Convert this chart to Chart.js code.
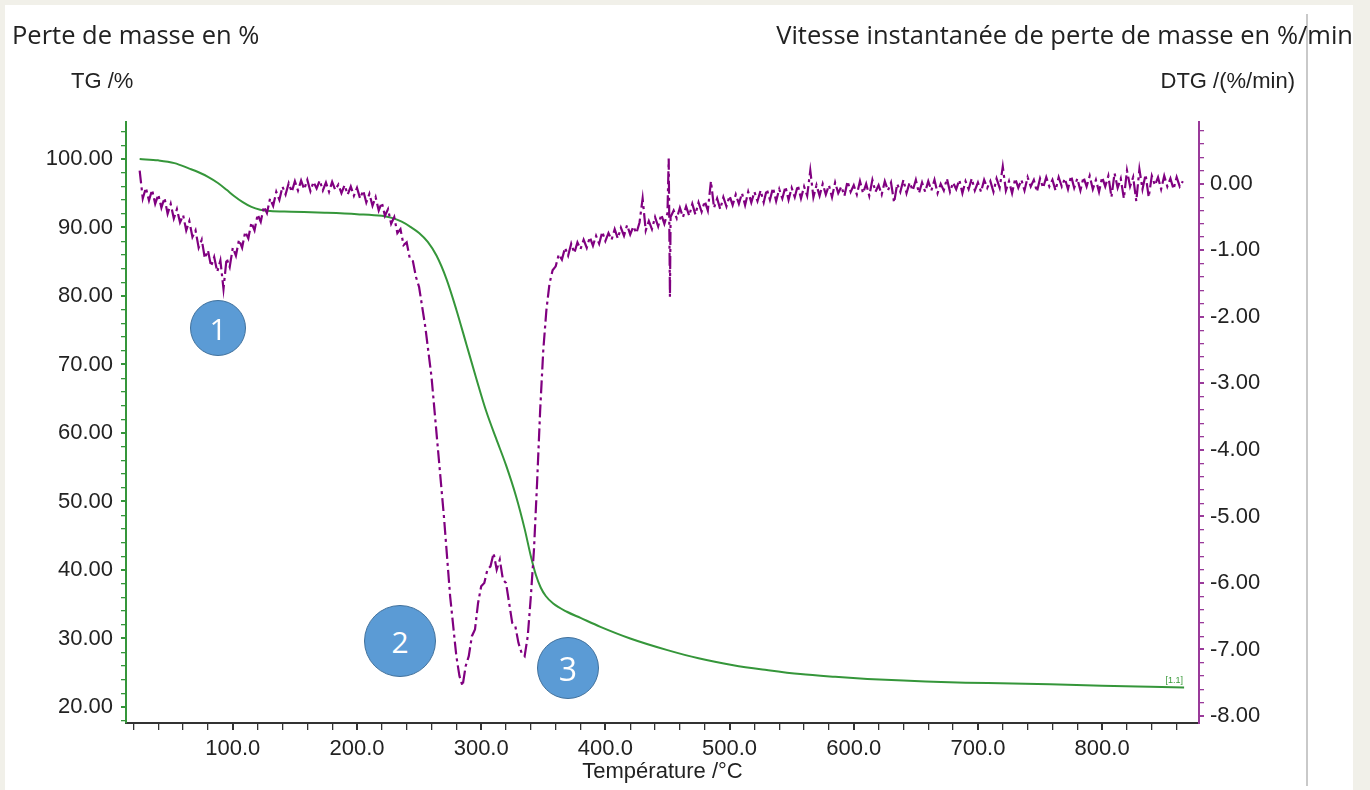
<!DOCTYPE html>
<html lang="fr">
<head>
<meta charset="UTF-8">
<title>TG / DTG</title>
<script src="https://cdn.jsdelivr.net/npm/chart.js"></script>
<style>
  body { margin: 0; width: 1370px; height: 790px; overflow: hidden; position: relative; background: #f1f0e9; }
  #panel { position: absolute; left: 5px; top: 5px; width: 1348px; height: 785px; background: #fff; }
  #rule { position: absolute; left: 1306px; top: 14px; width: 2px; height: 772px; background: #c9c9c9; }
  #chart { position: absolute; left: 0; top: 0; }
  .txt { position: absolute; white-space: nowrap; line-height: 1; color: #222; }
  .big { font-family: "Open Sans", sans-serif; font-size: 25.5px; }
  .unit { font-family: "Liberation Sans", Arial, sans-serif; font-size: 22px; }
  .tag { font-family: "Liberation Sans", Arial, sans-serif; font-size: 9px; color: #3a9a3a; }
  .dot { position: absolute; border-radius: 50%; background: #5b9bd5; border: 1.5px solid #41719c;
         box-sizing: border-box; color: #fff; font-family: "Open Sans", sans-serif;
         display: flex; align-items: center; justify-content: center; }
</style>
</head>
<body>
  <div id="panel"></div>
  <div id="rule"></div>
  <canvas id="chart" width="1370" height="790"></canvas>

  <div class="txt big" style="left:12px; top:22px;">Perte de masse en %</div>
  <div class="txt big" style="right:17px; top:22px;">Vitesse instantanée de perte de masse en %/min</div>
  <div class="txt unit" style="left:71px; top:70px;">TG /%</div>
  <div class="txt unit" style="right:75px; top:70px;">DTG /(%/min)</div>
  <div class="txt tag" style="right:187px; top:676px;">[1.1]</div>

  <div class="dot" style="left:190px; top:300px; width:56px; height:56px; font-size:30px;">1</div>
  <div class="dot" style="left:364px; top:605px; width:72px; height:72px; font-size:30px;">2</div>
  <div class="dot" style="left:537px; top:637px; width:62px; height:62px; font-size:32px;">3</div>

<script>
  // TG curve (mass %, left axis)
  const tgTemp = [25, 40, 53, 65, 72, 80, 88, 95, 101, 108, 115, 122, 130, 147, 174, 200, 220, 228,
                  236, 243, 250, 257, 264, 272, 280, 288, 296, 304, 312, 320, 328, 335, 340, 344, 348,
                  352, 358, 369, 380, 396, 420, 450, 475, 503, 530, 557, 585, 611, 640, 664, 690,
                  718, 758, 800, 839, 866];
  const tgMass = [100.0, 99.8, 99.4, 98.6, 98.1, 97.4, 96.5, 95.5, 94.6, 93.7, 93.0, 92.6, 92.4, 92.3,
                  92.15, 91.95, 91.7, 91.4, 90.85, 90.1, 89.2, 87.9, 85.9, 82.5, 78.0, 73.0, 68.0, 63.2,
                  59.2, 55.3, 50.8, 46.0, 42.0, 39.3, 37.4, 36.2, 35.1, 33.9, 33.0, 31.7, 30.0, 28.3,
                  27.1, 26.1, 25.4, 24.8, 24.4, 24.1, 23.85, 23.7, 23.55, 23.45, 23.3, 23.1, 22.95, 22.85];

  // DTG curve (%/min, right axis)
  const dtgTemp = [
    25, 27.5, 30, 32.5, 35, 37.5, 40, 42.5, 45, 47.5, 50, 52.5, 55, 57.5, 60, 62.5, 65, 67.5, 70, 72.5,
    75, 77.5, 80, 82.5, 85, 87.5, 90, 92.5, 95, 97.5, 100, 102.5, 105, 107.5, 110, 112.5, 115, 117.5,
    120, 122.5, 125, 127.5, 130, 132.5, 135, 137.5, 140, 142.5, 145, 147.5, 150, 152.5, 155, 157.5,
    160, 162.5, 165, 167.5, 170, 172.5, 175, 177.5, 180, 182.5, 185, 187.5, 190, 192.5, 195, 197.5,
    200, 202.5, 205, 207.5, 210, 212.5, 215, 217.5, 220, 222.5, 225, 227.5, 230, 232.5, 235, 237.5,
    240, 242.5, 245, 247.5, 250,
    255, 260, 265, 270, 275, 280, 282.5, 285, 287.5, 290, 292.5, 295, 297.5, 300, 302.5, 305, 307.5,
    310, 312.5, 315, 317.5, 320, 322.5, 325, 327.5, 330, 332.5, 335, 337.5, 340, 342.5, 345, 347.5,
    350, 352.5,
    355, 357.5, 360, 362.5, 365, 367.5, 370, 372.5, 375, 377.5, 380, 382.5, 385, 387.5, 390, 392.5,
    395, 397.5, 400, 402.5, 405, 407.5, 410, 412.5, 415, 417.5, 420, 422.5, 425, 427.5, 430, 432.5,
    435, 437.5, 440, 442.5, 445, 447.5, 450, 451, 452, 452.5, 455, 457.5, 460, 462.5, 465, 467.5,
    470, 472.5, 475, 477.5, 480, 482.5, 485, 487.5, 490, 492.5, 495, 497.5, 500, 502.5, 505, 507.5,
    510, 512.5, 515, 517.5, 520, 522.5, 525, 527.5, 530, 532.5, 535, 537.5, 540, 542.5, 545, 547.5,
    550, 552.5, 555, 557.5, 560, 562.5, 565, 567.5, 570, 572.5, 575, 577.5, 580, 582.5, 585, 587.5,
    590, 592.5, 595, 597.5, 600, 602.5, 605, 607.5, 610, 612.5, 615, 617.5, 620, 622.5, 625, 627.5,
    630, 632.5, 635, 637.5, 640, 642.5, 645, 647.5, 650, 652.5, 655, 657.5, 660, 662.5, 665, 667.5,
    670, 672.5, 675, 677.5, 680, 682.5, 685, 687.5, 690, 692.5, 695, 697.5, 700, 702.5, 705, 707.5,
    710, 712.5, 715, 717.5, 720, 722.5, 725, 727.5, 730, 732.5, 735, 737.5, 740, 742.5, 745, 747.5,
    750, 752.5, 755, 757.5, 760, 762.5, 765, 767.5, 770, 772.5, 775, 777.5, 780, 782.5, 785, 787.5,
    790, 792.5, 795, 797.5, 800, 802.5, 805, 807.5, 810, 812.5, 815, 817.5, 820, 822.5, 825, 827.5,
    830, 832.5, 835, 837.5, 840, 842.5, 845, 847.5, 850, 852.5, 855, 857.5, 860, 862.5, 865];
  const dtgRate = [
    0.20, -0.22, -0.06, -0.25, -0.09, -0.30, -0.16, -0.36, -0.21, -0.45, -0.30, -0.52, -0.38, -0.58,
    -0.47, -0.70, -0.56, -0.80, -0.70, -0.96, -0.84, -1.12, -1.00, -1.24, -1.10, -1.32, -1.15, -1.58,
    -1.12, -1.25, -0.96, -1.08, -0.84, -0.96, -0.72, -0.82, -0.58, -0.70, -0.46, -0.57, -0.34, -0.44,
    -0.22, -0.33, -0.12, -0.24, -0.04, -0.16, 0.01, -0.12, 0.04, -0.10, 0.05, -0.08, 0.06, -0.11,
    0.03, -0.07, 0.05, -0.10, 0.02, -0.12, 0.03, -0.09, -0.01, -0.14, -0.02, -0.16, -0.04, -0.18,
    -0.06, -0.22, -0.10, -0.28, -0.15, -0.33, -0.20, -0.40, -0.28, -0.48, -0.38, -0.60, -0.50, -0.74,
    -0.68, -0.92, -0.88, -1.12, -1.16, -1.40, -1.55,
    -2.15, -2.90, -3.95, -5.00, -6.20, -7.10, -7.40, -7.55, -7.25, -7.10, -6.80, -6.70, -6.30, -6.05,
    -6.00, -5.80, -5.75, -5.55, -5.80, -5.65, -5.95, -6.00, -6.30, -6.60, -6.65, -6.90, -7.05, -7.10,
    -6.80, -6.20, -5.50, -4.50, -3.40, -2.50, -1.90,
    -1.50, -1.30, -1.24, -1.06, -1.14, -0.96, -1.08, -0.90, -1.04, -0.88, -0.98, -0.84, -0.96, -0.80,
    -0.93, -0.78, -0.90, -0.72, -0.86, -0.74, -0.84, -0.68, -0.82, -0.66, -0.78, -0.62, -0.76, -0.64,
    -0.74, -0.58, -0.22, -0.70, -0.56, -0.68, -0.50, -0.64, -0.46, -0.60, -0.44, 0.38, -1.70, -0.50,
    -0.40, -0.52, -0.36, -0.50, -0.34, -0.48, -0.30, -0.46, -0.28, -0.42, -0.26, -0.40, 0.04, -0.36,
    -0.22, -0.38, -0.20, -0.34, -0.18, -0.32, -0.16, -0.30, -0.14, -0.32, -0.12, -0.28, -0.12, -0.26,
    -0.10, -0.28, -0.08, -0.24, -0.06, -0.26, -0.08, -0.22, -0.04, -0.24, -0.06, -0.20, -0.02, -0.22,
    -0.04, -0.18, 0.20, -0.20, -0.02, -0.18, 0.00, -0.16, -0.02, -0.20, 0.02, -0.14, -0.04, -0.18,
    0.04, -0.12, -0.02, -0.16, 0.04, -0.14, 0.00, -0.18, 0.06, -0.12, -0.02, -0.16, 0.04, -0.10,
    0.02, -0.28, 0.00, -0.12, 0.06, -0.14, 0.02, -0.10, 0.06, -0.14, 0.02, -0.12, 0.04, -0.10,
    0.06, -0.14, 0.00, -0.10, 0.08, -0.12, 0.02, -0.08, 0.06, -0.14, 0.04, -0.08, 0.08, -0.10,
    0.02, -0.12, 0.06, -0.06, 0.04, -0.12, 0.08, -0.06, 0.26, -0.10, 0.04, -0.14, 0.08, -0.06,
    0.06, -0.10, 0.10, -0.04, 0.06, -0.12, 0.08, -0.06, 0.10, -0.04, 0.06, -0.10, 0.10, -0.04,
    0.08, -0.08, 0.12, -0.06, 0.08, -0.10, 0.10, -0.04, 0.12, -0.08, 0.06, -0.12, 0.10, -0.04,
    0.12, -0.20, 0.16, -0.06, 0.08, -0.22, 0.20, -0.04, 0.10, -0.26, 0.22, -0.08, 0.14, -0.20,
    0.12, -0.02, 0.10, -0.08, 0.12, -0.04, 0.08, -0.08, 0.10, -0.04, 0.04];

  const xLabelValues = [100, 200, 300, 400, 500, 600, 700, 800];

  const GREEN = '#35963a';
  const PURPLE = '#800080';
  const PURPLE_AXIS = '#9a3a9a';
  const TXT = '#222';
  const tickFont = { family: '"Liberation Sans", Arial, sans-serif', size: 22 };

  function stepTicks(from, to, step) {
    const out = [];
    const n = Math.round((to - from) / step);
    for (let i = 0; i <= n; i++) out.push({ value: Math.round((from + i * step) * 100) / 100 });
    return out;
  }
  const isMultiple = (v, m) => Math.abs(v / m - Math.round(v / m)) < 1e-6;

  new Chart(document.getElementById('chart'), {
    type: 'line',
    data: {
      datasets: [
        {
          label: 'DTG',
          data: dtgTemp.map((t, i) => ({ x: t, y: dtgRate[i] })),
          yAxisID: 'yDTG',
          borderColor: PURPLE,
          borderWidth: 2.2,
          borderDash: [13, 4, 3, 4],
          pointRadius: 0,
          tension: 0
        },
        {
          label: 'TG',
          data: tgTemp.map((t, i) => ({ x: t, y: tgMass[i] })),
          yAxisID: 'yTG',
          borderColor: GREEN,
          borderWidth: 2,
          pointRadius: 0,
          cubicInterpolationMode: 'monotone'
        }
      ]
    },
    options: {
      responsive: false,
      animation: false,
      layout: { padding: { top: 122, left: 0, right: 0, bottom: 0 } },
      plugins: { legend: { display: false }, tooltip: { enabled: false } },
      scales: {
        x: {
          type: 'linear',
          min: 14,
          max: 878,
          afterFit: s => { s.height = 67; },
          afterBuildTicks: s => { s.ticks = stepTicks(20, 860, 20); },
          ticks: {
            autoSkip: false, maxRotation: 0, padding: 6, color: TXT, font: tickFont,
            callback: v => xLabelValues.includes(v) ? v.toFixed(1) : ''
          },
          grid: {
            drawOnChartArea: false, tickLength: 7, color: '#333',
            lineWidth: c => (c.tick && isMultiple(c.tick.value, 100)) ? 2 : 1.3
          },
          border: { color: '#333', width: 2 },
          title: { display: true, text: 'Température /°C', color: TXT, font: tickFont, padding: { top: 0, bottom: 5 } }
        },
        yTG: {
          position: 'left',
          min: 17.66,
          max: 105.4,
          afterFit: s => { s.width = 126; },
          afterBuildTicks: s => { s.ticks = stepTicks(18, 104, 2); },
          ticks: {
            autoSkip: false, padding: 8, color: TXT, font: tickFont,
            callback: v => isMultiple(v, 10) ? v.toFixed(2) : ''
          },
          grid: {
            drawOnChartArea: false, tickLength: 5, color: GREEN,
            lineWidth: c => (c.tick && isMultiple(c.tick.value, 10)) ? 2 : 1.3
          },
          border: { color: GREEN, width: 2 }
        },
        yDTG: {
          position: 'right',
          min: -8.105,
          max: 0.93,
          afterFit: s => { s.width = 171; },
          afterBuildTicks: s => { s.ticks = stepTicks(-8, 0.8, 0.2); },
          ticks: {
            autoSkip: false, padding: 6, color: TXT, font: tickFont,
            callback: v => isMultiple(v, 1) ? (Math.round(v) === 0 ? '0.00' : v.toFixed(2)) : ''
          },
          grid: {
            drawOnChartArea: false, tickLength: 5, color: PURPLE_AXIS,
            lineWidth: c => (c.tick && isMultiple(c.tick.value, 1)) ? 2 : 1.3
          },
          border: { color: PURPLE_AXIS, width: 2 }
        }
      }
    }
  });
</script>
</body>
</html>
